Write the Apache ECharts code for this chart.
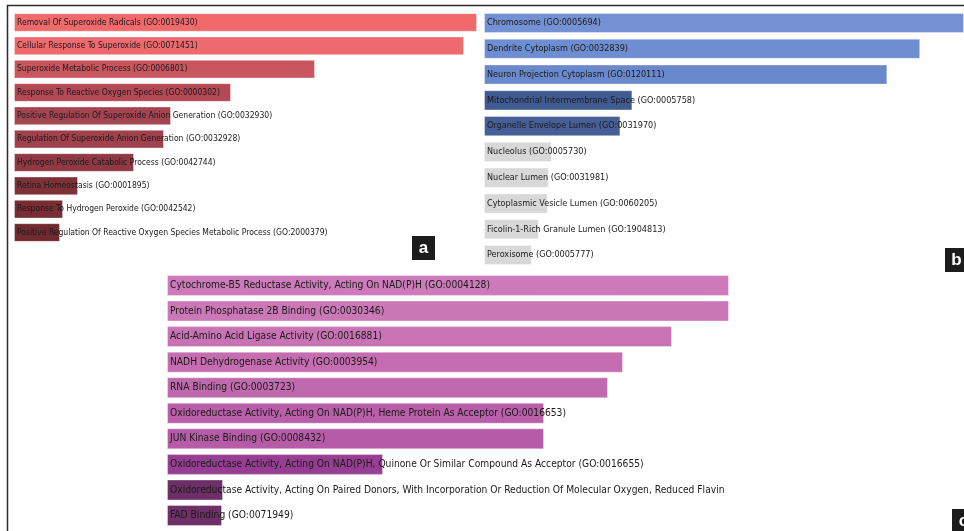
<!DOCTYPE html>
<html>
<head>
<meta charset="utf-8">
<script src="https://cdn.jsdelivr.net/npm/echarts@6/dist/echarts.min.js"></script>
<style>
  html, body { margin: 0; padding: 0; background: #ffffff; }
  #chart { width: 964px; height: 531px; }
</style>
</head>
<body>
<div id="chart"></div>
<script>
// (a) Biological process terms
const termsA = [
  'Removal Of Superoxide Radicals (GO:0019430)',
  'Cellular Response To Superoxide (GO:0071451)',
  'Superoxide Metabolic Process (GO:0006801)',
  'Response To Reactive Oxygen Species (GO:0000302)',
  'Positive Regulation Of Superoxide Anion Generation (GO:0032930)',
  'Regulation Of Superoxide Anion Generation (GO:0032928)',
  'Hydrogen Peroxide Catabolic Process (GO:0042744)',
  'Retina Homeostasis (GO:0001895)',
  'Response To Hydrogen Peroxide (GO:0042542)',
  'Positive Regulation Of Reactive Oxygen Species Metabolic Process (GO:2000379)'
];
const scoresA = [463, 450, 301, 217, 157, 150, 120, 64, 49, 46];

// (b) Cellular component terms
const termsB = [
  'Chromosome (GO:0005694)',
  'Dendrite Cytoplasm (GO:0032839)',
  'Neuron Projection Cytoplasm (GO:0120111)',
  'Mitochondrial Intermembrane Space (GO:0005758)',
  'Organelle Envelope Lumen (GO:0031970)',
  'Nucleolus (GO:0005730)',
  'Nuclear Lumen (GO:0031981)',
  'Cytoplasmic Vesicle Lumen (GO:0060205)',
  'Ficolin-1-Rich Granule Lumen (GO:1904813)',
  'Peroxisome (GO:0005777)'
];
const scoresB = [482, 438, 405, 149, 137, 68, 65, 64, 55, 48];

// (c) Molecular function terms
const termsC = [
  'Cytochrome-B5 Reductase Activity, Acting On NAD(P)H (GO:0004128)',
  'Protein Phosphatase 2B Binding (GO:0030346)',
  'Acid-Amino Acid Ligase Activity (GO:0016881)',
  'NADH Dehydrogenase Activity (GO:0003954)',
  'RNA Binding (GO:0003723)',
  'Oxidoreductase Activity, Acting On NAD(P)H, Heme Protein As Acceptor (GO:0016653)',
  'JUN Kinase Binding (GO:0008432)',
  'Oxidoreductase Activity, Acting On NAD(P)H, Quinone Or Similar Compound As Acceptor (GO:0016655)',
  'Oxidoreductase Activity, Acting On Paired Donors, With Incorporation Or Reduction Of Molecular Oxygen, Reduced Flavin',
  'FAD Binding (GO:0071949)'
];
const scoresC = [562, 562, 505, 456, 441, 377, 377, 216, 56, 55];

// bar shades, one per row
const shadesA = ['#f06a6c', '#ee6a6e', '#c9565f', '#b24955', '#a54451', '#a0424e', '#8e3944', '#7e3139', '#782d35', '#722a31'];
const shadesB = ['#7492d3', '#6e8ed1', '#6a89cd', '#3f5b92', '#465f97', '#d8d8d8', '#d8d8d8', '#d8d8d8', '#d8d8d8', '#d8d8d8'];
const shadesC = ['#cc7ab9', '#cb78b7', '#c873b4', '#c46eb1', '#c06aae', '#b95fa9', '#b65ca7', '#963f92', '#6d2f68', '#6d3068'];

const FONT = '"Liberation Sans Narrow", "Arial Narrow", "DejaVu Sans Condensed", sans-serif';

function barSeries(idx, terms, scores, shades, fontSize, gap) {
  return {
    type: 'bar',
    xAxisIndex: idx,
    yAxisIndex: idx,
    barCategoryGap: gap,
    data: scores.map((v, i) => ({
      value: v,
      itemStyle: { color: shades[i] }
    })),
    itemStyle: { borderColor: 'rgba(255,255,255,0.35)', borderWidth: 1 },
    label: {
      show: true,
      position: [3, '50%'],
      align: 'left',
      verticalAlign: 'middle',
      formatter: p => terms[p.dataIndex],
      color: '#1a1a1a',
      fontFamily: FONT,
      fontSize: fontSize
    },
    emphasis: { disabled: true },
    silent: true
  };
}

function catAxis(idx, terms) {
  return { type: 'category', gridIndex: idx, data: terms, inverse: true, show: false };
}
function valAxis(idx, max) {
  return { type: 'value', gridIndex: idx, min: 0, max: max, show: false };
}

function panelTag(letter, x, y) {
  return {
    type: 'group',
    x: x, y: y,
    children: [
      { type: 'rect', shape: { x: 0, y: 0, width: 23, height: 24 }, style: { fill: '#1c1c1c' } },
      { type: 'text', x: 11.5, y: 12, style: {
          text: letter, fill: '#ffffff', font: 'bold 17px "Liberation Sans", sans-serif',
          align: 'center', verticalAlign: 'middle' } }
    ]
  };
}

const chart = echarts.init(document.getElementById('chart'), null, { renderer: 'canvas' });
chart.setOption({
  backgroundColor: '#ffffff',
  animation: false,
  grid: [
    { left: 14, top: 10.8, width: 463, height: 233.4 },
    { left: 484, top: 10.1, width: 482, height: 257.8 },
    { left: 167, top: 272.7, width: 562, height: 255.6 }
  ],
  xAxis: [valAxis(0, 463), valAxis(1, 482), valAxis(2, 562)],
  yAxis: [catAxis(0, termsA), catAxis(1, termsB), catAxis(2, termsC)],
  series: [
    barSeries(0, termsA, scoresA, shadesA, 8.5, '20%'),
    barSeries(1, termsB, scoresB, shadesB, 9, '22%'),
    barSeries(2, termsC, scoresC, shadesC, 10.2, '18%')
  ],
  graphic: [
    { type: 'line', shape: { x1: 7, y1: 5.5, x2: 964, y2: 5.5 }, style: { stroke: '#2a2a2a', lineWidth: 1.5 } },
    { type: 'line', shape: { x1: 7.5, y1: 5, x2: 7.5, y2: 531 }, style: { stroke: '#2a2a2a', lineWidth: 1.5 } },
    panelTag('a', 412, 236),
    panelTag('b', 945, 248),
    panelTag('c', 952, 509)
  ]
});
</script>
</body>
</html>
